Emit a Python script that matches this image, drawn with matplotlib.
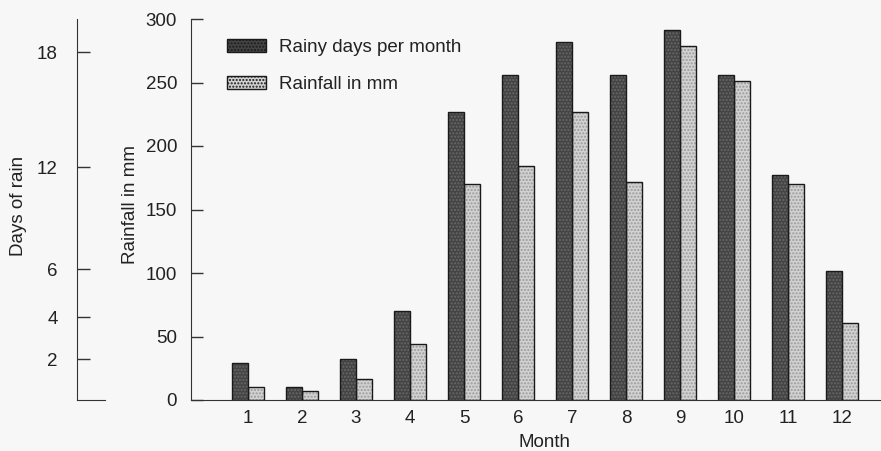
import matplotlib
matplotlib.use("Agg")
import matplotlib.pyplot as plt
import numpy as np
from matplotlib.patches import Patch

months = [1, 2, 3, 4, 5, 6, 7, 8, 9, 10, 11, 12]
rainy_days = [1.9, 0.66, 2.1, 4.55, 14.7, 16.6, 18.25, 16.6, 18.9, 16.6, 11.5, 6.6]
rainfall_mm = [10.2, 7.3, 16.5, 43.8, 170, 184.5, 226.8, 171.9, 278.5, 251, 169.8, 60.4]
mm_ticks = [0, 50, 100, 150, 200, 250, 300]
day_ticks = [2, 4, 6, 12, 18]

plt.rcParams['font.family'] = ['Liberation Sans', 'DejaVu Sans']
txt = '#222222'
bg = '#f7f7f7'
fs = 13.5

W, H = 881, 451
fig = plt.figure(figsize=(W / 100, H / 100), dpi=100, facecolor=bg)

y0 = 1 - 400 / H
hgt = (400 - 19) / H
ax = fig.add_axes([191 / W, y0, 1 - 191 / W, hgt])
ax.set_facecolor('none')
ax2 = ax.twinx()
ax2.set_facecolor('none')

w = 0.305
xd = [m - w / 2 for m in months]
xl = [m + w / 2 for m in months]

dark_face = '#444444'
light_face = '#d2d2d2'

# dark bars (days scale)
ax2.bar(xd, rainy_days, width=w, color=dark_face, hatch='.....', edgecolor='#686868', linewidth=0, zorder=2)
ax2.bar(xd, rainy_days, width=w, fill=False, edgecolor='#1a1a1a', linewidth=1.0, zorder=3)
# light bars (mm scale)
ax.bar(xl, rainfall_mm, width=w, color=light_face, hatch='.....', edgecolor='#9a9a9a', linewidth=0, zorder=2)
ax.bar(xl, rainfall_mm, width=w, fill=False, edgecolor='#1a1a1a', linewidth=1.0, zorder=3)

ax.set_xlim(1 - 57 / 54, 12 + 39 / 54)
ax.set_ylim(0, 300)
ax2.set_ylim(0, 19.44)

for s in ['top', 'right']:
    ax.spines[s].set_visible(False)
for s in ['top', 'right', 'left', 'bottom']:
    ax2.spines[s].set_visible(False)
ax2.set_yticks([])
ax.spines['left'].set_color('#333333')
ax.spines['bottom'].set_color('#333333')

ax.set_yticks(mm_ticks)
ax.set_yticklabels([str(v) for v in mm_ticks])
ax.tick_params(axis='y', direction='in', length=8.6, width=1.0, color='#333333',
               pad=10, labelsize=fs, labelcolor=txt)
ax.set_xticks(months)
ax.set_xticklabels([str(m) for m in months])
ax.tick_params(axis='x', length=0, pad=7, labelsize=fs, labelcolor=txt)
ax.set_xlabel('Month', fontsize=fs, color=txt)
ax.xaxis.set_label_coords((545 - 191) / 690, -(434 - 400) / 381)
ax.set_ylabel('Rainfall in mm', fontsize=fs, color=txt)
ax.yaxis.set_label_coords((139 - 191) / 690, (400 - 205) / 381)

# Days of rain axis (hand-drawn, slightly uneven scale in the original)
scale_d = [0, 2, 4, 6, 12, 18, 21]
scale_px = [0, 41, 83, 131, 233, 348, 405.5]


def fwd(v):
    return np.interp(v, scale_d, scale_px)


def inv(v):
    return np.interp(v, scale_px, scale_d)


axd = fig.add_axes([77 / W, y0, 28 / W, hgt])
axd.set_facecolor('none')
axd.set_yscale('function', functions=(fwd, inv))
axd.set_ylim(0, inv(381))
axd.set_xlim(0, 1)
axd.spines['top'].set_visible(False)
axd.spines['right'].set_visible(False)
axd.spines['left'].set_color('#333333')
axd.spines['bottom'].set_color('#333333')
axd.set_xticks([])
axd.set_yticks(day_ticks)
axd.set_yticklabels([str(v) for v in day_ticks])
axd.yaxis.set_minor_locator(matplotlib.ticker.NullLocator())
axd.tick_params(axis='y', direction='in', length=9, width=1.0, color='#333333',
                pad=14, labelsize=fs, labelcolor=txt)
axd.set_ylabel('Days of rain', fontsize=fs, color=txt)
axd.yaxis.set_label_coords((27 - 77) / 28, (400 - 206) / 381)

handles = [
    Patch(facecolor=dark_face, edgecolor='#1a1a1a', hatch='.....', linewidth=1.0),
    Patch(facecolor=light_face, edgecolor='#1a1a1a', hatch='.....', linewidth=1.0),
]
leg = ax.legend(handles, ['Rainy days per month', 'Rainfall in mm'],
                loc='upper left', bbox_to_anchor=(227 / W, 1 - 39 / H),
                bbox_transform=fig.transFigure, frameon=False, fontsize=fs,
                handlelength=2.08, handleheight=0.69, handletextpad=0.69,
                labelspacing=1.05, borderaxespad=0, borderpad=0)
for t in leg.get_texts():
    t.set_color(txt)

fig.savefig('out.png', dpi=100, facecolor=bg)
